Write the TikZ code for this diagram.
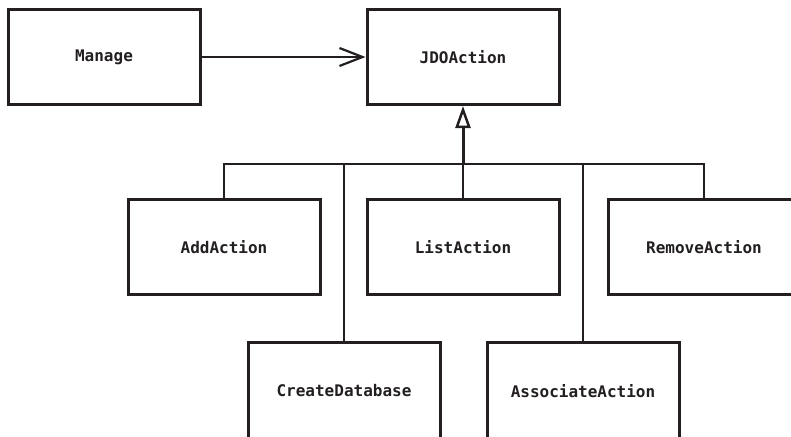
\documentclass[tikz,border=0pt]{standalone}
\usepackage{fontspec}
\setmonofont{DejaVu Sans Mono}
\usetikzlibrary{arrows.meta}
\definecolor{ink}{RGB}{35,31,32}

\begin{document}
\begin{tikzpicture}[x=1pt, y=-1pt,
    cls/.style={draw=ink, line width=3pt, minimum width=192pt, minimum height=95pt,
        inner sep=0pt, text=ink, font=\fontsize{16}{19}\selectfont\ttfamily\bfseries},
    link/.style={draw=ink, line width=2.2pt}]
    \useasboundingbox (0,0) rectangle (791,436);
    \node (manage) at (104,57) [cls] {Manage};
    \node (jdo) at (463,57) [cls] {JDOAction};
    \node (add) at (224,247) [cls] {AddAction};
    \node (list) at (463,247) [cls] {ListAction};
    \node (remove) at (704,247) [cls] {RemoveAction};
    \node (create) at (344,391) [cls, minimum height=97pt] {CreateDatabase};
    \node (assoc) at (583,391) [cls, minimum height=97pt] {AssociateAction};
    \coordinate (bus) at (463,164);
    \draw [link, -{Straight Barb[length=23pt, width=18pt]}] (manage) -- (jdo);
    \draw [link, line width=3pt, -{Triangle[open, length=22pt, width=15pt, line width=2.5pt]}] (bus) -- (jdo);
    \draw [link] (add.north) -- (add.north |- bus) -- (remove.north |- bus) -- (remove.north);
    \draw [link] (create.north) -- (create.north |- bus);
    \draw [link] (list.north) -- (bus);
    \draw [link] (assoc.north) -- (assoc.north |- bus);
\end{tikzpicture}
\end{document}
